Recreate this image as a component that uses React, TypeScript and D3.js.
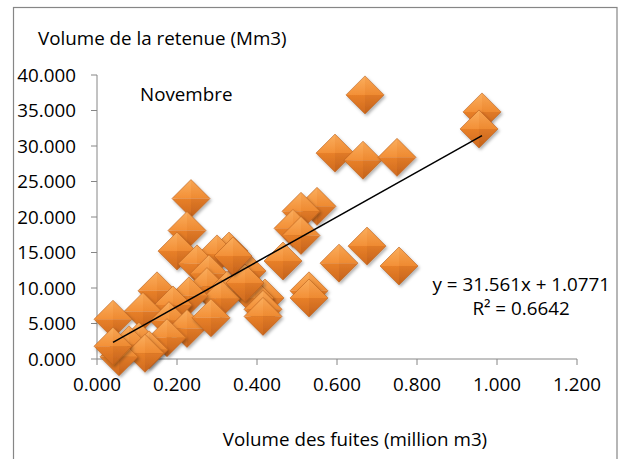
import React from 'react';
import * as d3 from 'd3';

const xTicks = [0, 0.2, 0.4, 0.6, 0.8, 1.0, 1.2];
const yTicks = [0, 5, 10, 15, 20, 25, 30, 35, 40];

const leakVolume = [
  0.67, 0.9625, 0.955, 0.595, 0.665, 0.75, 0.55, 0.51, 0.49, 0.51,
  0.675, 0.605, 0.755, 0.465, 0.53, 0.53, 0.235, 0.225, 0.2, 0.33,
  0.3, 0.25, 0.375, 0.28, 0.275, 0.42, 0.395, 0.415, 0.415, 0.325,
  0.31, 0.23, 0.15, 0.19, 0.115, 0.04, 0.18, 0.225, 0.285, 0.175,
  0.105, 0.08, 0.13, 0.12, 0.055, 0.04, 0.37, 0.34
];
const reservoirVolume = [
  37.2, 34.8, 32.4, 29.0, 28.0, 28.4, 21.5, 20.8, 18.4, 17.4,
  15.9, 13.5, 13.1, 13.8, 9.6, 8.6, 22.6, 18.1, 15.2, 15.2,
  14.8, 13.4, 12.4, 12.0, 10.2, 8.6, 8.6, 7.0, 6.0, 9.7,
  8.5, 8.9, 9.6, 7.6, 6.7, 5.6, 5.4, 4.3, 5.8, 3.0,
  2.5, 2.0, 1.3, 0.8, 0.3, 1.8, 10.7, 14.5
];

const slope = 31.561;
const intercept = 1.0771;
const equationText = 'y = 31.561x + 1.0771';
const r2Text = 'R\u00B2 = 0.6642';
const monthLabel = 'Novembre';
const yTitle = 'Volume de la retenue (Mm3)';
const xTitle = 'Volume des fuites (million m3)';

const FONT = "'Open Sans', sans-serif";
const FS = 18.8;

export default function App() {
  const x = d3.scaleLinear().domain([0, 1.2]).range([97, 577]);
  const y = d3.scaleLinear().domain([0, 40]).range([359, 75]);
  const fmt = d3.format('.3f');
  const r = 19;
  const xMin = d3.min(leakVolume) as number;
  const xMax = d3.max(leakVolume) as number;
  const pts = leakVolume.map((v, i) => [v, reservoirVolume[i]]);
  const axisColor = '#868686';

  return (
    <svg width={618} height={459} style={{ position: 'absolute', left: 0, top: 0 }} fontFamily={FONT}>
      <defs>
        <linearGradient id="gTL" x1="0" y1="0" x2="0" y2="1">
          <stop offset="0" stopColor="#FAAE5E" />
          <stop offset="1" stopColor="#F39037" />
        </linearGradient>
        <linearGradient id="gTR" x1="0" y1="0" x2="0" y2="1">
          <stop offset="0" stopColor="#F8A553" />
          <stop offset="1" stopColor="#EE8A31" />
        </linearGradient>
        <linearGradient id="gBL" x1="0" y1="0" x2="0" y2="1">
          <stop offset="0" stopColor="#E88029" />
          <stop offset="1" stopColor="#CF6A1E" />
        </linearGradient>
        <linearGradient id="gBR" x1="0" y1="0" x2="0" y2="1">
          <stop offset="0" stopColor="#E07A27" />
          <stop offset="1" stopColor="#C4621B" />
        </linearGradient>
        <filter id="sh" x="-30%" y="-30%" width="160%" height="160%">
          <feDropShadow dx="1.5" dy="2" stdDeviation="1.5" floodColor="#000" floodOpacity="0.3" />
        </filter>
      </defs>
      <rect x={13.5} y={7.5} width={603.5} height={480} fill="#fff" stroke={axisColor} strokeWidth={1.2} />

      {/* axes */}
      <line x1={x(0)} x2={x(0)} y1={y(40)} y2={y(0)} stroke={axisColor} />
      <line x1={x(0)} x2={x(1.2)} y1={y(0)} y2={y(0)} stroke={axisColor} />
      {yTicks.map((t) => (
        <g key={'y' + t}>
          <line x1={x(0) - 6} x2={x(0)} y1={y(t)} y2={y(t)} stroke={axisColor} />
          <text x={76} y={y(t)} dy="0.35em" textAnchor="end" fontSize={FS} fill="#000">
            {fmt(t)}
          </text>
        </g>
      ))}
      {xTicks.map((t) => (
        <g key={'x' + t}>
          <line x1={x(t)} x2={x(t)} y1={y(0)} y2={y(0) + 6} stroke={axisColor} />
          <text x={x(t)} y={391} textAnchor="middle" fontSize={FS} fill="#000">
            {fmt(t)}
          </text>
        </g>
      ))}

      {/* points */}
      {pts.map(([a, b], i) => {
        const cx = x(a);
        const cy = y(b);
        return (
          <g key={i} transform={`translate(${cx},${cy})`} filter="url(#sh)">
            <polygon points={`0,0 ${-r},0 0,${-r}`} fill="url(#gTL)" />
            <polygon points={`0,0 0,${-r} ${r},0`} fill="url(#gTR)" />
            <polygon points={`0,0 ${-r},0 0,${r}`} fill="url(#gBL)" />
            <polygon points={`0,0 ${r},0 0,${r}`} fill="url(#gBR)" />
            <polygon points={`${-r},0 0,${-r} ${r},0 0,${r}`} fill="none" stroke="#B9601C" strokeWidth={0.6} />
          </g>
        );
      })}

      {/* trendline */}
      <line
        x1={x(xMin)}
        y1={y(slope * xMin + intercept)}
        x2={x(xMax)}
        y2={y(slope * xMax + intercept)}
        stroke="#000"
        strokeWidth={1.5}
      />

      <text x={38} y={45} fontSize={FS} fill="#000">{yTitle}</text>
      <text x={140} y={101} fontSize={FS} fill="#000">{monthLabel}</text>
      <text x={355} y={446} textAnchor="middle" fontSize={FS} fill="#000">{xTitle}</text>
      <text x={610} y={291} textAnchor="end" fontSize={FS} fill="#000">{equationText}</text>
      <text x={521} y={315} textAnchor="middle" fontSize={FS} fill="#000">{r2Text}</text>
    </svg>
  );
}
